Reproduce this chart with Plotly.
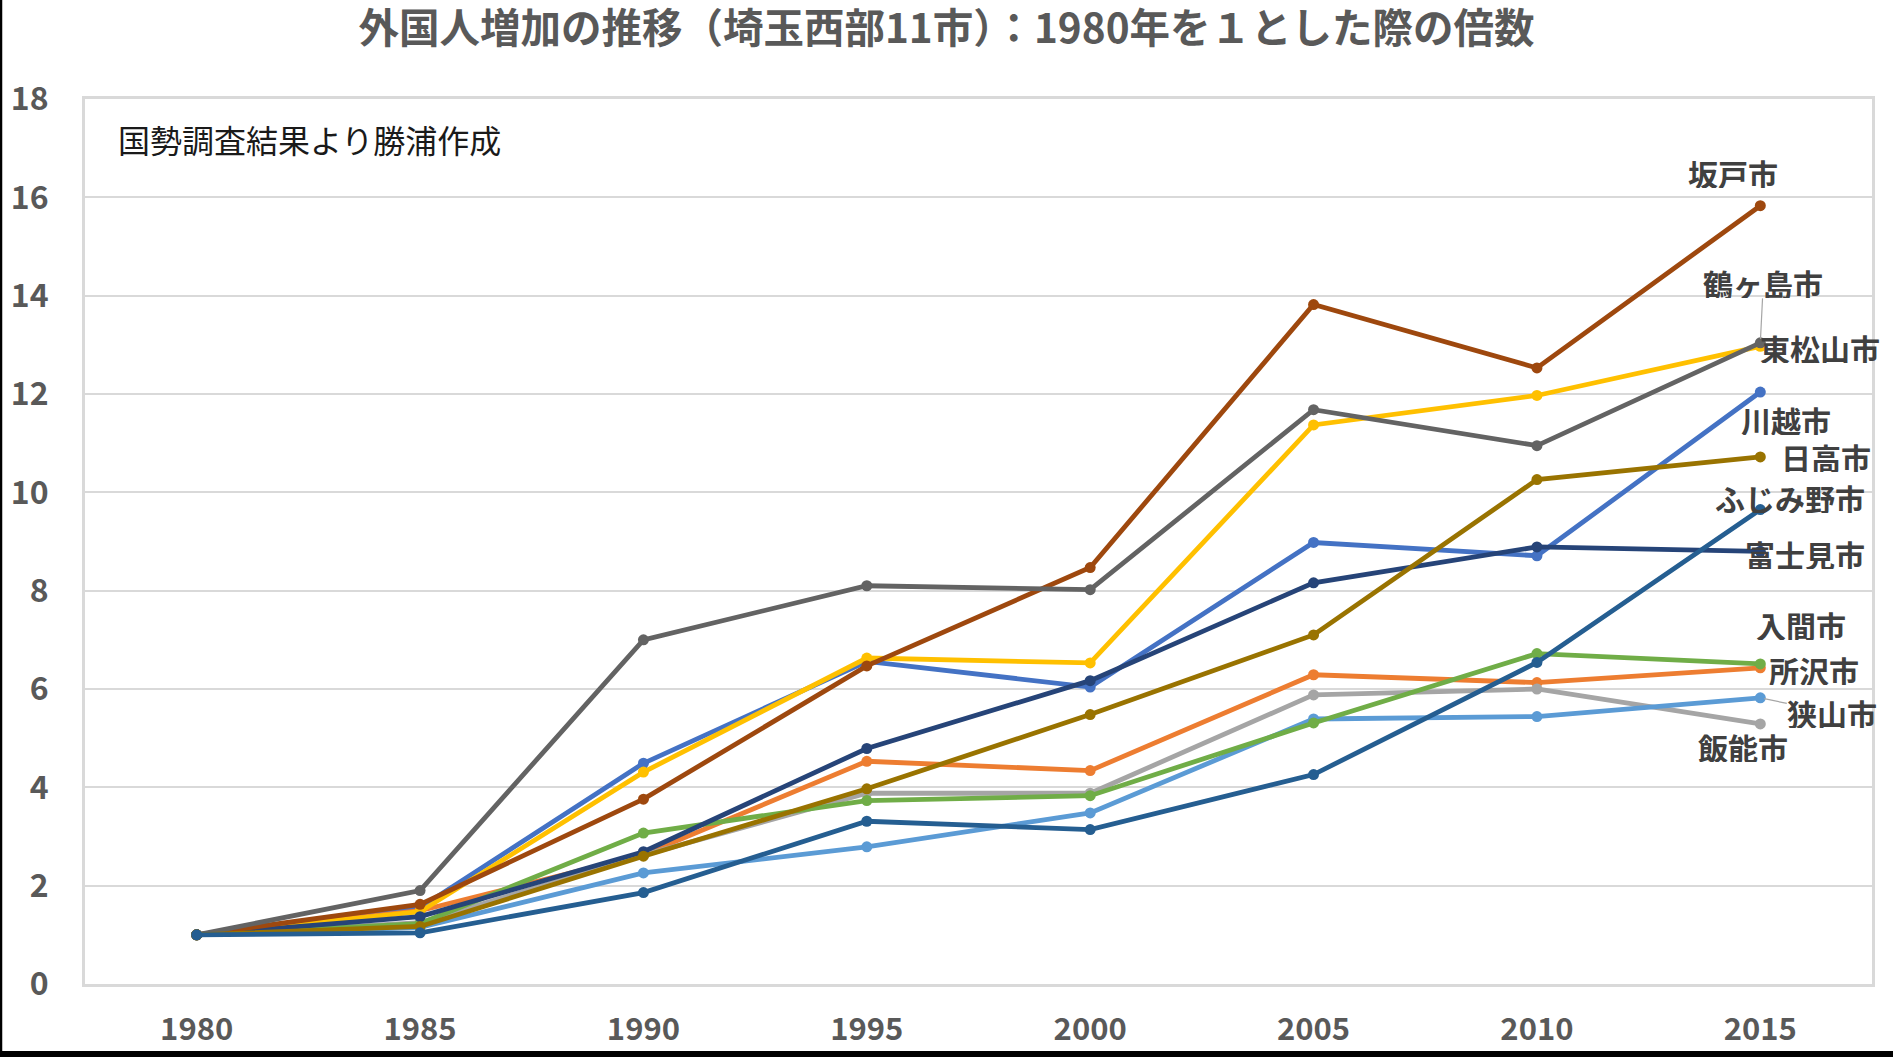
import plotly.graph_objects as go

years = ["1980", "1985", "1990", "1995", "2000", "2005", "2010", "2015"]
y_ticks = [0, 2, 4, 6, 8, 10, 12, 14, 16, 18]

cities = ["川越市", "所沢市", "飯能市", "東松山市", "狭山市", "入間市",
          "富士見市", "坂戸市", "鶴ヶ島市", "日高市", "ふじみ野市"]

kawagoe      = [1, 1.55, 4.49, 6.56, 6.04, 8.98, 8.71, 12.04]
tokorozawa   = [1, 1.49, 2.63, 4.53, 4.34, 6.29, 6.13, 6.43]
hanno        = [1, 1.25, 2.62, 3.88, 3.88, 5.88, 6.00, 5.29]
higashimatsu = [1, 1.47, 4.31, 6.63, 6.53, 11.37, 11.97, 12.97]
sayama       = [1, 1.15, 2.26, 2.79, 3.48, 5.39, 5.44, 5.82]
iruma        = [1, 1.23, 3.07, 3.73, 3.83, 5.31, 6.72, 6.51]
fujimi       = [1, 1.37, 2.69, 4.79, 6.17, 8.16, 8.89, 8.80]
sakado       = [1, 1.62, 3.76, 6.47, 8.47, 13.82, 12.53, 15.83]
tsurugashima = [1, 1.90, 7.00, 8.10, 8.02, 11.68, 10.95, 13.04]
hidaka       = [1, 1.17, 2.60, 3.97, 5.48, 7.10, 10.26, 10.72]
fujimino     = [1, 1.04, 1.86, 3.31, 3.14, 4.26, 6.54, 9.65]

series = [kawagoe, tokorozawa, hanno, higashimatsu, sayama, iruma,
          fujimi, sakado, tsurugashima, hidaka, fujimino]

colors = ["#4472C4", "#ED7D31", "#A5A5A5", "#FFC000", "#5B9BD5", "#70AD47",
          "#264478", "#9E480E", "#636363", "#997300", "#255E91"]

# label offsets (pixels) from the last point, and whether a leader line is drawn
label_offsets = {
    "坂戸市": (-27, -33, False),
    "鶴ヶ島市": (3, -60, True),
    "東松山市": (60, 2, False),
    "川越市": (26, 28, False),
    "日高市": (66, 0, False),
    "ふじみ野市": (30, -12, False),
    "富士見市": (45, 3, False),
    "入間市": (41, -39, False),
    "所沢市": (54, 2, False),
    "狭山市": (72, 15, True),
    "飯能市": (-17, 23, False),
}

FONT = "Noto Sans CJK JP"
W, H = 1893, 1057
ML, MR, MT, MB = 85, 21, 99, 73
PW = W - ML - MR
PH = H - MT - MB

fig = go.Figure()
for name, vals, col in zip(cities, series, colors):
    fig.add_trace(go.Scatter(
        x=years, y=vals, name=name, mode="lines+markers",
        line=dict(color=col, width=4.8),
        marker=dict(color=col, size=11, symbol="circle"),
    ))

annotations = []
for name, vals in zip(cities, series):
    ax, ay, leader = label_offsets[name]
    annotations.append(dict(
        x=len(years) - 1, y=vals[-1], xref="x", yref="y",
        text=f"<b>{name}</b>", showarrow=True, ax=ax, ay=ay,
        arrowhead=0, arrowwidth=1.2, standoff=4, height=30, borderpad=0,
        arrowcolor="#A6A6A6" if leader else "rgba(0,0,0,0)",
        font=dict(family=FONT, size=30, color="#404040"),
    ))

annotations.append(dict(
    x=(116 - ML) / PW, y=(984.3 - 139) / PH, xref="paper", yref="paper",
    xanchor="left", yanchor="middle", showarrow=False,
    text="国勢調査結果より勝浦作成",
    font=dict(family=FONT, size=32, color="#1a1a1a"),
))

shapes = [
    dict(type="line", xref="paper", yref="paper",
         x0=-ML / PW + 1 / PW, x1=-ML / PW + 1 / PW, y0=-MB / PH, y1=1 + MT / PH,
         line=dict(color="black", width=2.5)),
    dict(type="rect", xref="paper", yref="paper",
         x0=-ML / PW, x1=1 + MR / PW, y0=-MB / PH, y1=-(MB - 6) / PH,
         line=dict(width=0), fillcolor="black"),
]

fig.update_layout(
    width=W, height=H,
    margin=dict(l=ML, r=MR, t=MT, b=MB, autoexpand=False),
    paper_bgcolor="white", plot_bgcolor="white",
    showlegend=False,
    title=dict(
        text="<b>外国人増加の推移（埼玉西部11市）：1980年を１とした際の倍数</b>",
        x=0.5, xanchor="center", y=1 - 29 / H, yanchor="middle",
        yref="container",
        font=dict(family=FONT, size=40.5, color="#595959"),
    ),
    xaxis=dict(
        type="category", range=[-0.5, len(years) - 0.5], automargin=False,
        showgrid=False, showline=True, linecolor="#D9D9D9", linewidth=3,
        mirror=True, ticks="", ticklabelstandoff=16,
        tickfont=dict(family=FONT, size=31, color="#595959", weight="bold"),
    ),
    yaxis=dict(
        range=[0, 18], tickvals=y_ticks, automargin=False,
        showgrid=True, gridcolor="#D9D9D9",
        gridwidth=2, showline=True, linecolor="#D9D9D9", linewidth=3,
        mirror=True, zeroline=False, ticks="", ticklabelstandoff=27,
        tickfont=dict(family=FONT, size=32, color="#595959", weight="bold"),
    ),
    annotations=annotations,
    shapes=shapes,
)

fig.write_html(
    "out.html",
    config={"displayModeBar": False, "staticPlot": True},
    post_script=("document.body.style.margin='0px';"
                 "document.body.style.overflow='hidden';"
                 "document.documentElement.style.overflow='hidden';"
                 "var gd=document.getElementById('{plot_id}');"
                 "gd.style.position='fixed';gd.style.left='0px';gd.style.top='0px';"),
)
